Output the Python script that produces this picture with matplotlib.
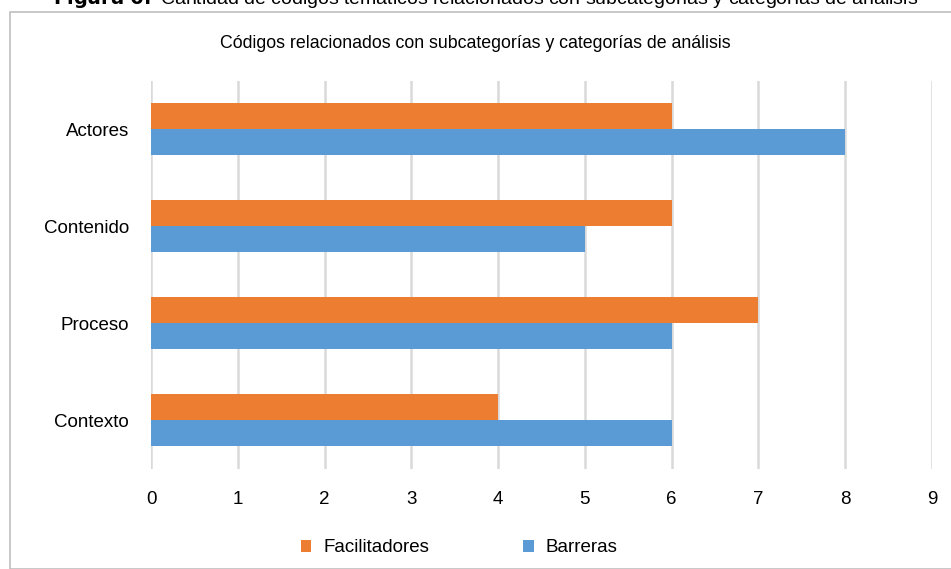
import numpy as np
import matplotlib.pyplot as plt
from matplotlib.patches import Rectangle

plt.rcParams['font.family'] = ['Liberation Sans', 'DejaVu Sans']

categorias = ['Contexto', 'Proceso', 'Contenido', 'Actores']
facilitadores = [4, 7, 6, 6]
barreras = [6, 6, 5, 8]

fig = plt.figure(figsize=(9.51, 5.69), dpi=100)
ax = fig.add_axes([0.1588, 0.1766, 0.8212, 0.6819])

y = np.arange(len(categorias))
h = 0.27
ax.barh(y + h / 2, facilitadores, height=h, color='#ED7D31', label='Facilitadores', zorder=3)
ax.barh(y - h / 2, barreras, height=h, color='#5B9BD5', label='Barreras', zorder=3)

ax.set_xlim(0, 9)
ax.set_ylim(-0.5, 3.5)
ax.set_xticks(range(0, 10))
ax.set_yticks(y)
ax.set_yticklabels(categorias)
ax.tick_params(axis='both', length=0, labelsize=13.5, colors='#000000')
ax.tick_params(axis='x', pad=16)
ax.tick_params(axis='y', pad=16)
ax.xaxis.grid(True, color='#d9d9d9', linewidth=1.8, zorder=0)
for s in ax.spines.values():
    s.set_visible(False)

fig.text(0.5, 1 - 43 / 569, 'Códigos relacionados con subcategorías y categorías de análisis',
         ha='center', va='center', fontsize=12.8)

# caption cut off at the top
fig.text(486 / 951, 1 - 4 / 569, r'$\bf{Figura\ 6.}$ Cantidad de códigos temáticos relacionados con subcategorías y categorías de análisis',
         ha='center', va='baseline', fontsize=14)

# outer chart border
fig.patches.append(Rectangle((10 / 951, 0), 1.0, 1 - 12 / 569, transform=fig.transFigure,
                             fill=False, edgecolor='#bfbfbf', linewidth=1.2, clip_on=False))

fig.legend(loc='center', bbox_to_anchor=(0.483, 1 - 548 / 569), ncol=2, frameon=False,
           fontsize=13.5, handlelength=0.55, handleheight=0.55, columnspacing=5.0, handletextpad=0.65)

fig.savefig('out.png', dpi=100)
